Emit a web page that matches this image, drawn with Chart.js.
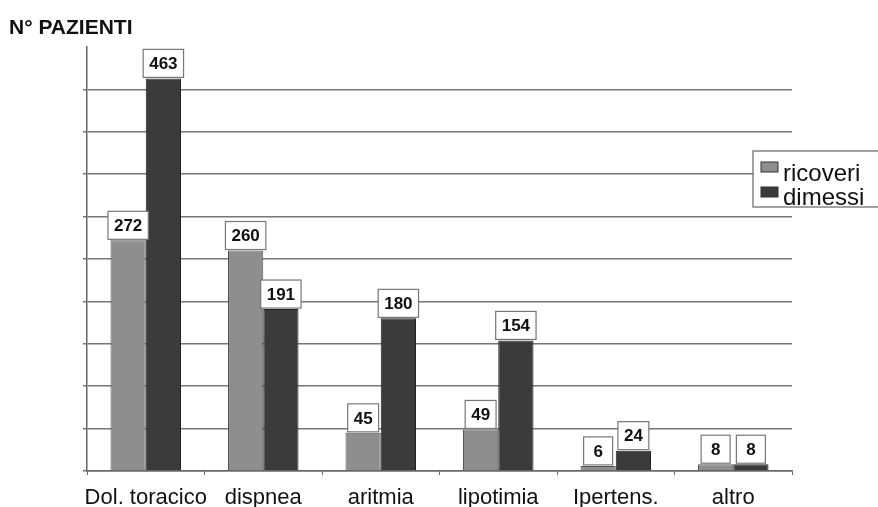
<!DOCTYPE html>
<html>
<head>
<meta charset="utf-8">
<script src="https://cdn.jsdelivr.net/npm/chart.js@4.4.1/dist/chart.umd.min.js"></script>
<style>
  html, body { margin: 0; padding: 0; background: #fff; }
  #wrap { width: 878px; height: 507px; }
</style>
</head>
<body>
<div id="wrap"><canvas id="myChart" width="878" height="507"></canvas></div>
<script>
const categories = ['Dol. toracico', 'dispnea', 'aritmia', 'lipotimia', 'Ipertens.', 'altro'];
const ricoveri = [272, 260, 45, 49, 6, 8];
const dimessi = [463, 191, 180, 154, 24, 8];
const seriesNames = ['ricoveri', 'dimessi'];
const yMax = 500;
const yStep = 50;

const FONT = '"Liberation Sans", Arial, sans-serif';

// boxed value labels over each bar
const valueBoxes = {
  id: 'valueBoxes',
  afterDatasetsDraw(chart) {
    const ctx = chart.ctx;
    ctx.save();
    ctx.font = 'bold 17px ' + FONT;
    ctx.textAlign = 'center';
    ctx.textBaseline = 'middle';
    chart.data.datasets.forEach((ds, i) => {
      chart.getDatasetMeta(i).data.forEach((bar, j) => {
        const txt = String(ds.data[j]);
        const w = Math.max(29, ctx.measureText(txt).width + 12);
        const h = 28;
        const x = bar.x - w / 2;
        const y = bar.y - h - 1;
        ctx.fillStyle = '#fff';
        ctx.fillRect(x, y, w, h);
        ctx.strokeStyle = '#777';
        ctx.lineWidth = 1.2;
        ctx.strokeRect(x, y, w, h);
        ctx.fillStyle = '#111';
        ctx.fillText(txt, bar.x, y + h / 2 + 1);
      });
    });
    ctx.restore();
  }
};

// title and legend, placed like the original scan
const extras = {
  id: 'extras',
  afterDraw(chart) {
    const ctx = chart.ctx;
    ctx.save();
    ctx.fillStyle = '#111';
    ctx.font = 'bold 21px ' + FONT;
    ctx.textBaseline = 'alphabetic';
    ctx.textAlign = 'left';
    ctx.fillText('N° PAZIENTI', 9, 34);

    // legend
    const lx = 753, ly = 151, lw = 140, lh = 56;
    ctx.fillStyle = '#fff';
    ctx.fillRect(lx, ly, lw, lh);
    ctx.strokeStyle = '#666';
    ctx.lineWidth = 1.2;
    ctx.strokeRect(lx, ly, lw, lh);
    const cols = chart.data.datasets.map(d => d.backgroundColor);
    ctx.font = '24px ' + FONT;
    seriesNames.forEach((name, i) => {
      const sy = 162 + i * 25;
      ctx.fillStyle = cols[i];
      ctx.fillRect(761, sy, 17, 10);
      ctx.strokeStyle = '#333';
      ctx.lineWidth = 1;
      ctx.strokeRect(761, sy, 17, 10);
      ctx.fillStyle = '#111';
      ctx.fillText(name, 783, 181 + i * 24);
    });
    ctx.restore();
  }
};

new Chart(document.getElementById('myChart').getContext('2d'), {
  type: 'bar',
  data: {
    labels: categories,
    datasets: [
      { label: seriesNames[0], data: ricoveri, backgroundColor: '#8e8e8e', borderColor: '#555', borderWidth: 1 },
      { label: seriesNames[1], data: dimessi, backgroundColor: '#3b3b3b', borderColor: '#222', borderWidth: 1 }
    ]
  },
  options: {
    responsive: false,
    animation: false,
    events: [],
    layout: { padding: { left: 82, right: 86, top: 47, bottom: 0 } },
    datasets: { bar: { categoryPercentage: 0.6, barPercentage: 1.0 } },
    plugins: { legend: { display: false }, title: { display: false }, tooltip: { enabled: false } },
    scales: {
      x: {
        grid: { drawOnChartArea: false, drawTicks: true, tickLength: 4, color: '#666' },
        border: { color: '#666', width: 1.5 },
        ticks: { color: '#111', font: { family: FONT, size: 22 }, padding: 10, maxRotation: 0, minRotation: 0, autoSkip: false },
        afterFit(scale) { scale.height = 36; }
      },
      y: {
        min: 0,
        max: yMax,
        ticks: { display: false, stepSize: yStep },
        grid: {
          color: ctx => (ctx.tick && ctx.tick.value === yMax) ? 'rgba(0,0,0,0)' : '#777',
          lineWidth: 1.5,
          drawTicks: true,
          tickLength: 4
        },
        border: { color: '#666', width: 1.5 },
        afterFit(scale) { scale.width = 5; }
      }
    }
  },
  plugins: [valueBoxes, extras]
});
</script>
</body>
</html>
